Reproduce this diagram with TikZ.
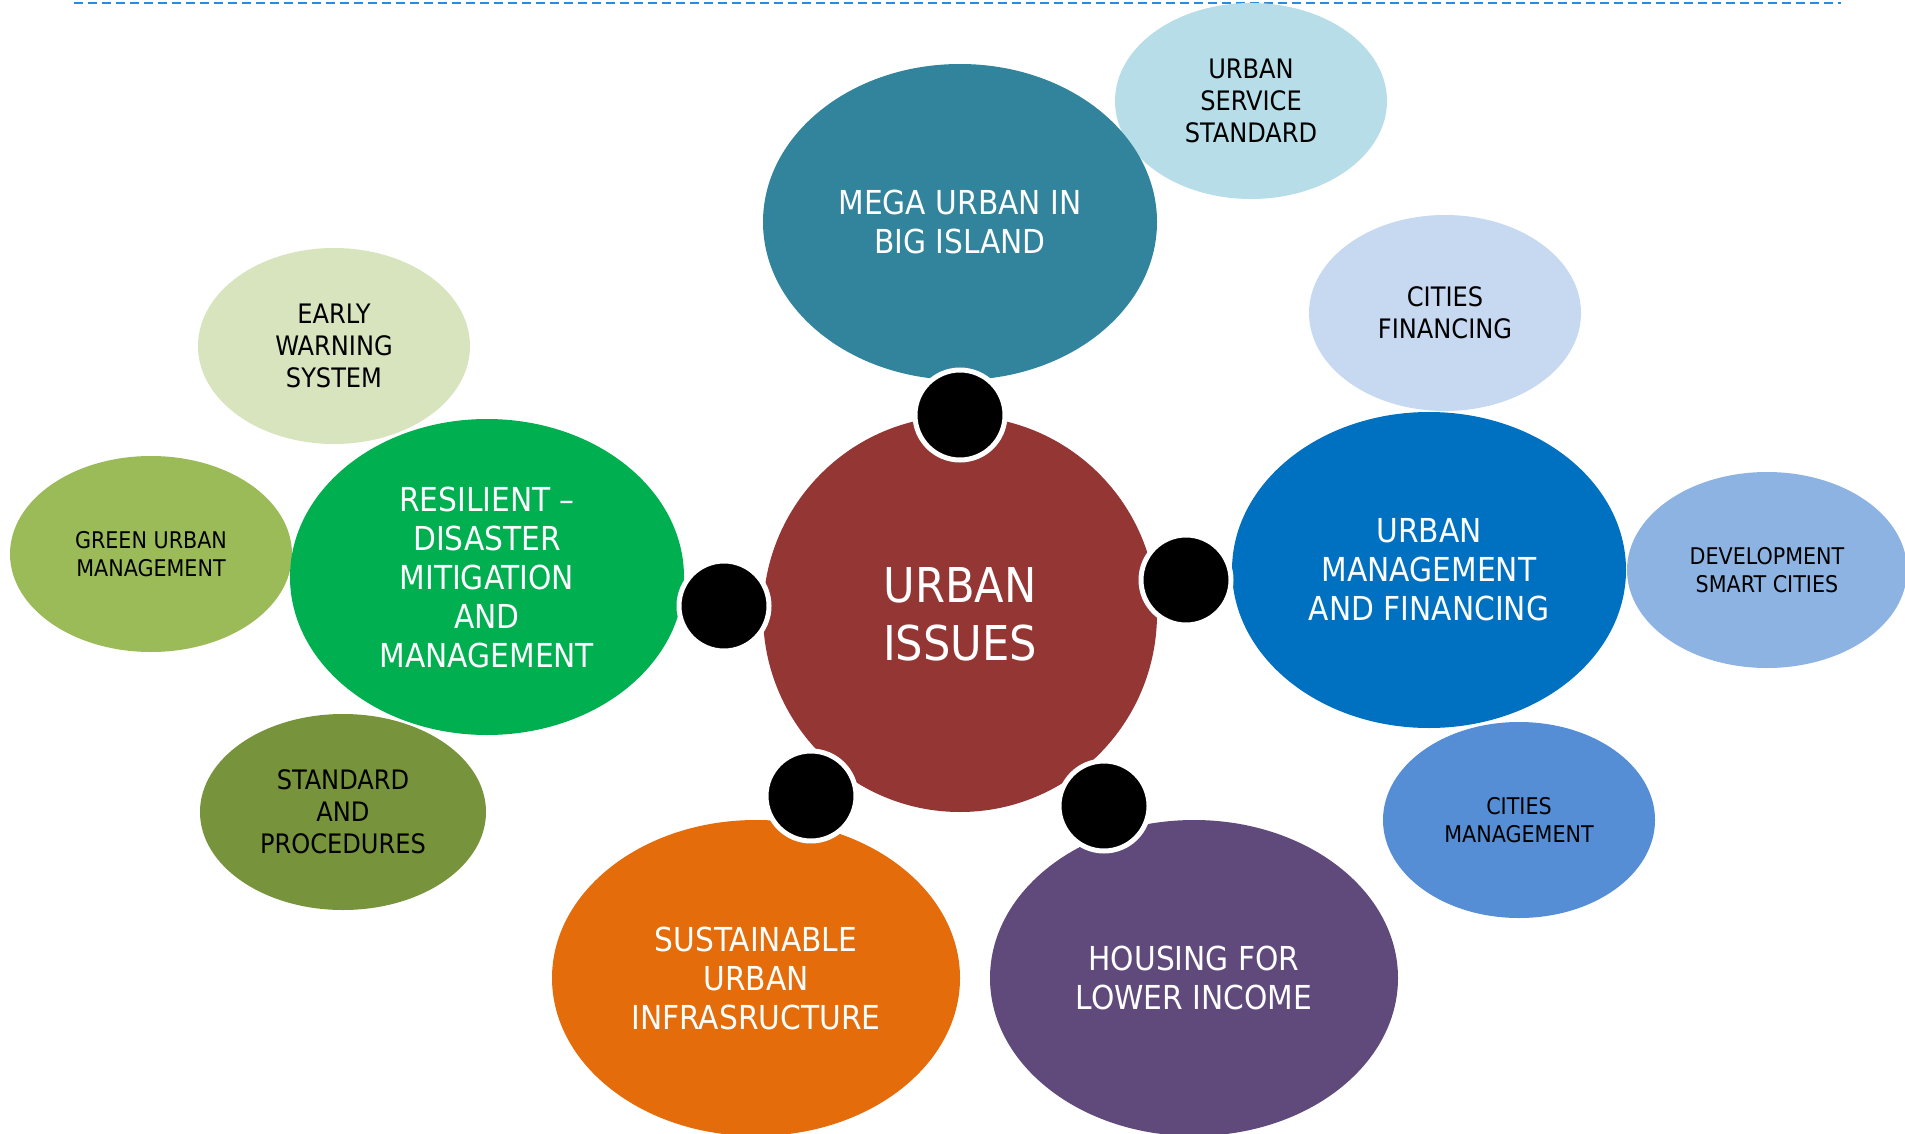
\documentclass[tikz,border=0pt]{standalone}
\usepackage{fontspec}
\setmainfont{DejaVu Sans Condensed}
\usetikzlibrary{shapes.geometric}

\definecolor{hubred}{HTML}{943634}
\definecolor{megateal}{HTML}{31849B}
\definecolor{serviceblue}{HTML}{B7DEE8}
\definecolor{financeblue}{HTML}{C6D9F1}
\definecolor{mgmtblue}{HTML}{0070C0}
\definecolor{smartblue}{HTML}{8DB3E2}
\definecolor{citiesblue}{HTML}{558ED5}
\definecolor{housingpurple}{HTML}{604A7B}
\definecolor{infraorange}{HTML}{E46C0A}
\definecolor{resilgreen}{HTML}{00B050}
\definecolor{earlygreen}{HTML}{D7E4BD}
\definecolor{greenmgmt}{HTML}{9BBB59}
\definecolor{stdolive}{HTML}{77933C}
\definecolor{ruleblue}{HTML}{2A8BDF}

\tikzset{
  blob/.style={ellipse,inner sep=0pt,align=center},
  bigblob/.style={blob,text=white,font=\fontsize{16.5}{19.5}\selectfont,minimum width=197pt,minimum height=158pt},
  smallblob/.style={blob,text=black,font=\fontsize{13.4}{16}\selectfont,minimum width=136pt,minimum height=98pt},
  tinyblob/.style={blob,text=black,font=\fontsize{11.5}{14}\selectfont,minimum width=140pt,minimum height=98pt},
  joint/.style={circle,fill=black,draw=white,line width=2.5pt,minimum size=45pt,inner sep=0pt}
}

\begin{document}
\begin{tikzpicture}[x=0.5pt,y=0.5pt,yscale=-1,xscale=1]
\useasboundingbox (0,0) rectangle (1905,1134);

% dashed rule on top
\coordinate (ruleL) at (74,3);
\coordinate (ruleR) at (1841,3);
\draw [ruleblue,line width=1.1pt,dash pattern=on 4.3pt off 2.7pt] (ruleL) -- (ruleR);

% outer small ellipses
\node [smallblob,fill=serviceblue] (service) at (1251,101) {URBAN\\SERVICE\\STANDARD};
\node [smallblob,fill=financeblue] (financing) at (1445,313) {CITIES\\FINANCING};
\node [tinyblob,fill=smartblue] (smart) at (1767,570) {DEVELOPMENT\\SMART CITIES};
\node [tinyblob,fill=citiesblue,minimum width=136pt] (citiesmgmt) at (1519,820) {CITIES\\MANAGEMENT};
\node [smallblob,fill=earlygreen] (early) at (334,346) {EARLY\\WARNING\\SYSTEM};
\node [tinyblob,fill=greenmgmt,minimum width=141pt] (greenurban) at (151,554) {GREEN URBAN\\MANAGEMENT};
\node [smallblob,fill=stdolive,minimum width=143pt] (standard) at (343,812) {STANDARD\\AND\\PROCEDURES};

% main ellipses
\node [bigblob,fill=megateal] (mega) at (960,222) {MEGA URBAN IN\\BIG ISLAND};
\node [bigblob,fill=mgmtblue] (mgmt) at (1429,570) {URBAN\\MANAGEMENT\\AND FINANCING};
\node [bigblob,fill=housingpurple,minimum width=204pt] (housing) at (1194,978) {HOUSING FOR\\LOWER INCOME};
\node [bigblob,fill=infraorange,minimum width=204pt] (infra) at (756,978) {SUSTAINABLE\\URBAN\\INFRASRUCTURE};
\node [bigblob,fill=resilgreen] (resilient) at (487,577) {RESILIENT --\\DISASTER\\MITIGATION\\AND\\MANAGEMENT};

% hub
\node [blob,fill=hubred,text=white,font=\fontsize{24}{29}\selectfont,minimum width=197pt,minimum height=198pt] (hub) at (960,614) {URBAN\\ISSUES};

% joints
\node [joint] (jtop) at (960,415) {};
\node [joint] (jright) at (1186,580) {};
\node [joint] (jleft) at (724,606) {};
\node [joint] (jbl) at (811,796) {};
\node [joint] (jbr) at (1104,806) {};

\end{tikzpicture}
\end{document}
